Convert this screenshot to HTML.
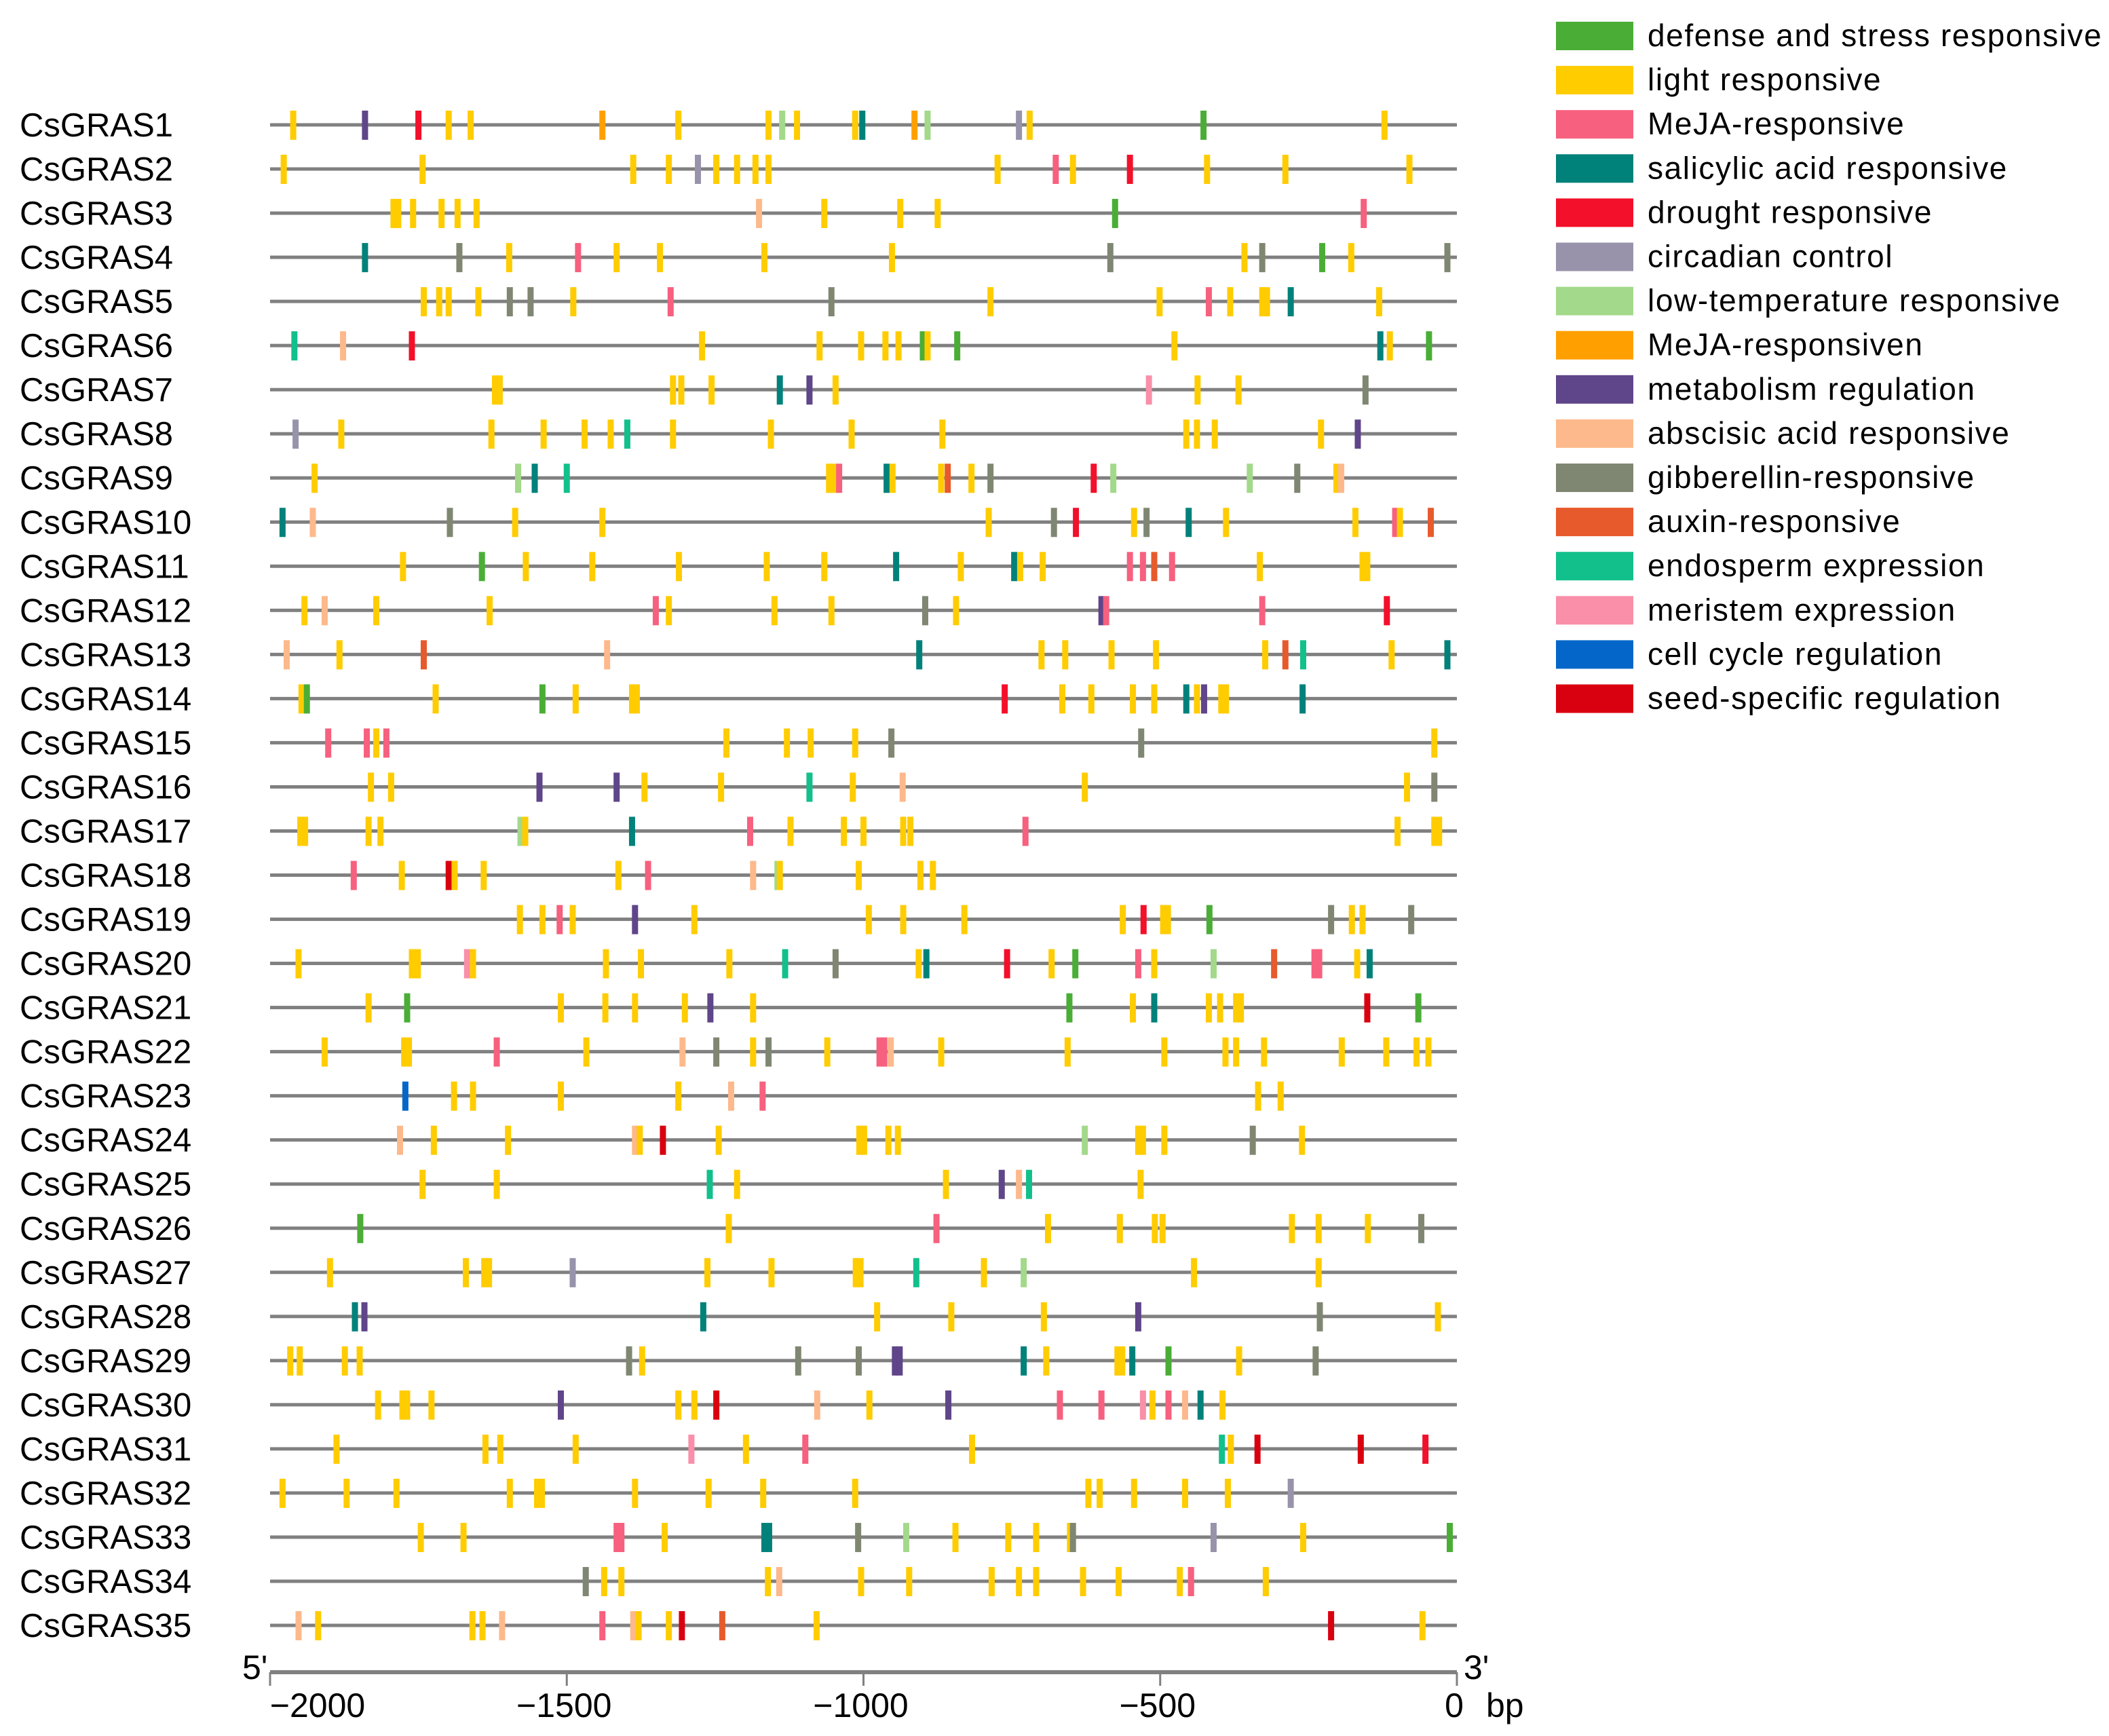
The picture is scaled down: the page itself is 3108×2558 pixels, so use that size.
<!DOCTYPE html>
<html><head><meta charset="utf-8">
<style>
html,body{margin:0;padding:0;background:#fff;}
svg{display:block;}
text{font-family:"Liberation Sans",Arial,sans-serif;fill:#000;}
</style></head>
<body>
<svg id="chart" width="3108" height="2558" viewBox="0 0 3108 2558" xmlns="http://www.w3.org/2000/svg">
<g id="rows"></g>
<g id="axis"></g>
<g id="legend"></g>
</svg>
<script>
const genes = ["CsGRAS1","CsGRAS2","CsGRAS3","CsGRAS4","CsGRAS5","CsGRAS6","CsGRAS7","CsGRAS8","CsGRAS9","CsGRAS10","CsGRAS11","CsGRAS12","CsGRAS13","CsGRAS14","CsGRAS15","CsGRAS16","CsGRAS17","CsGRAS18","CsGRAS19","CsGRAS20","CsGRAS21","CsGRAS22","CsGRAS23","CsGRAS24","CsGRAS25","CsGRAS26","CsGRAS27","CsGRAS28","CsGRAS29","CsGRAS30","CsGRAS31","CsGRAS32","CsGRAS33","CsGRAS34","CsGRAS35"];
const elementPositions = [
[-1961,-1840,-1750,-1699,-1662,-1440,-1312,-1160,-1137,-1112,-1014,-1002,-914,-892,-738,-720,-427,-122],
[-1977,-1743,-1388,-1328,-1279,-1248,-1213,-1182,-1160,-774,-676,-647,-551,-421,-289,-80],
[-1792,-1784,-1759,-1711,-1684,-1652,-1176,-1066,-938,-875,-576,-157],
[-1840,-1681,-1597,-1481,-1416,-1343,-1167,-952,-584,-358,-328,-227,-178,-16],
[-1741,-1715,-1699,-1649,-1596,-1561,-1489,-1325,-1054,-786,-501,-418,-382,-328,-320,-280,-131],
[-1959,-1877,-1761,-1272,-1074,-1004,-963,-941,-900,-892,-842,-476,-129,-113,-47],
[-1621,-1613,-1321,-1307,-1256,-1141,-1091,-1047,-519,-437,-368,-154],
[-1957,-1880,-1627,-1539,-1470,-1426,-1398,-1321,-1156,-1020,-867,-456,-438,-408,-229,-167],
[-1925,-1582,-1554,-1500,-1058,-1050,-1041,-961,-951,-869,-858,-818,-786,-612,-579,-349,-269,-203,-195],
[-1979,-1928,-1697,-1587,-1440,-789,-679,-642,-544,-523,-452,-389,-171,-104,-96,-44],
[-1776,-1643,-1569,-1457,-1311,-1163,-1066,-945,-836,-746,-736,-698,-551,-529,-510,-480,-332,-159,-151],
[-1942,-1908,-1821,-1630,-1350,-1328,-1150,-1054,-896,-844,-599,-591,-328,-118],
[-1972,-1883,-1741,-1432,-906,-700,-660,-582,-507,-323,-289,-259,-110,-16],
[-1947,-1938,-1721,-1541,-1485,-1390,-1382,-762,-665,-616,-546,-510,-456,-438,-426,-397,-389,-260],
[-1902,-1837,-1821,-1804,-1231,-1129,-1089,-1014,-953,-532,-38],
[-1830,-1796,-1546,-1416,-1369,-1240,-1091,-1018,-934,-627,-84,-38],
[-1949,-1941,-1834,-1814,-1578,-1570,-1390,-1191,-1123,-1033,-1000,-933,-921,-727,-100,-38,-30],
[-1859,-1778,-1699,-1689,-1640,-1413,-1363,-1186,-1145,-1141,-1008,-904,-883],
[-1579,-1541,-1512,-1490,-1385,-1285,-991,-933,-830,-563,-528,-495,-487,-417,-212,-177,-159,-77],
[-1952,-1761,-1751,-1668,-1658,-1434,-1375,-1226,-1132,-1047,-907,-894,-758,-683,-643,-537,-510,-410,-308,-240,-232,-168,-147],
[-1834,-1769,-1510,-1435,-1385,-1301,-1258,-1186,-653,-546,-510,-418,-399,-372,-364,-151,-65],
[-1908,-1774,-1766,-1618,-1467,-1305,-1248,-1186,-1160,-1061,-973,-965,-954,-869,-656,-493,-390,-372,-325,-194,-119,-68,-48],
[-1772,-1690,-1658,-1510,-1312,-1223,-1170,-335,-297],
[-1781,-1724,-1599,-1385,-1377,-1338,-1244,-1007,-999,-958,-942,-627,-537,-529,-493,-344,-261],
[-1743,-1618,-1259,-1213,-861,-767,-738,-721,-533],
[-1848,-1227,-877,-689,-568,-509,-496,-278,-233,-150,-60],
[-1899,-1670,-1639,-1631,-1490,-1263,-1155,-1013,-1005,-911,-797,-730,-443,-233],
[-1857,-1841,-1270,-977,-852,-696,-537,-231,-32],
[-1966,-1950,-1874,-1849,-1395,-1373,-1110,-1008,-947,-939,-730,-692,-572,-564,-547,-486,-367,-238],
[-1818,-1777,-1769,-1728,-1510,-1312,-1285,-1248,-1078,-990,-857,-669,-599,-529,-513,-486,-458,-432,-395],
[-1888,-1637,-1612,-1485,-1290,-1198,-1098,-817,-396,-381,-336,-162,-53],
[-1979,-1871,-1787,-1596,-1550,-1542,-1385,-1261,-1169,-1014,-621,-602,-544,-458,-386,-280],
[-1746,-1674,-1416,-1408,-1335,-1167,-1159,-1009,-928,-845,-756,-709,-652,-647,-410,-259,-12],
[-1468,-1437,-1408,-1161,-1142,-1004,-923,-784,-738,-709,-630,-570,-467,-448,-322],
[-1952,-1919,-1659,-1642,-1609,-1440,-1388,-1379,-1328,-1306,-1238,-1079,-212,-58]
];
const elementTypes = [
"Y M R Y Y O Y Y L Y Y T O L C Y G Y",
"Y Y Y Y C Y Y Y Y Y P Y R Y Y Y",
"Y Y Y Y Y Y A Y Y Y G P",
"T Gb Y P Y Y Y Y Gb Y Gb G Y Gb",
"Y Y Y Y Gb Gb Y P Gb Y Y P Y Y Y T Y",
"E A R Y Y Y Y Y G Y G Y T Y G",
"Y Y Y Y Y T M Y K Y Y Gb",
"C Y Y Y Y Y E Y Y Y Y Y Y Y Y M",
"Y L T E Y Y P T Y Y X Y Gb R L L Gb Y A",
"T A Gb Y Y Y Gb R Y Gb T Y Y P Y X",
"Y G Y Y Y Y Y T Y T Y Y P P X P Y Y Y",
"Y A Y Y P Y Y Y Gb Y M P P R",
"A Y X A T Y Y Y Y Y X E Y T",
"Y G Y G Y Y Y R Y Y Y Y T Y M Y Y T",
"P P Y P Y Y Y Y Gb Gb Y",
"Y Y M M Y Y E Y A Y Y Gb",
"Y Y Y Y L Y T P Y Y Y Y Y P Y Y Y",
"P Y S Y Y Y P A L Y Y Y Y",
"Y Y P Y M Y Y Y Y Y R Y Y G Gb Y Y Gb",
"Y Y Y K Y Y Y Y E Gb Y T R Y G P Y L X P P Y T",
"Y G Y Y Y Y M Y G Y T Y Y Y Y S G",
"Y Y Y P Y A Gb Y Gb Y P P A Y Y Y Y Y Y Y Y Y Y",
"B Y Y Y Y A P Y Y",
"A Y Y A Y S Y Y Y Y Y L Y Y Y Gb Y",
"Y Y E Y Y M A E Y",
"G Y P Y Y Y Y Y Y Y Gb",
"Y Y Y Y C Y Y Y Y E Y L Y Y",
"T M T Y Y Y M Gb Y",
"Y Y Y Y Gb Y Gb Gb M M T Y Y Y T G Y Gb",
"Y Y Y Y M Y Y S A Y M P P K Y P A T Y",
"Y Y Y Y K Y P Y E Y S S R",
"Y Y Y Y Y Y Y Y Y Y Y Y Y Y Y C",
"Y Y P P Y T T Gb L Y Y Y Y Gb C Y G",
"Gb Y Y Y A Y Y Y Y Y Y Y Y P Y",
"A Y Y Y A P A Y Y S X Y S Y"
];
const legendCodes = ["G","Y","P","T","R","C","L","O","M","A","Gb","X","E","K","B","S"];
const legendLabels = ["defense and stress responsive","light responsive","MeJA-responsive","salicylic acid responsive","drought responsive","circadian control","low-temperature responsive","MeJA-responsiven","metabolism regulation","abscisic acid responsive","gibberellin-responsive","auxin-responsive","endosperm expression","meristem expression","cell cycle regulation","seed-specific regulation"];
const tickValues = [-2000,-1500,-1000,-500,0];
const tickLabels = ["\u22122000","\u22121500","\u22121000","\u2212500","0"];

const colors = {G:"#4aae36",Y:"#ffcc00",P:"#f7607e",T:"#00817a",R:"#f2102a",C:"#9893ab",L:"#a3d98a",O:"#ffa000",M:"#5f4589",A:"#fdb98b",Gb:"#7f8772",X:"#e75a2c",E:"#12c08c",K:"#f98fa8",B:"#0466c8",S:"#d9000f"};
const NS = "http://www.w3.org/2000/svg";
const X0 = 398, X1 = 2147;
function xScale(bp){ return X0 + (bp + 2000) * (X1 - X0) / 2000; }
function yRow(i){ return 184 + i * 65.03; }
function mk(tag, attrs, parent){ const e = document.createElementNS(NS, tag); for (const k in attrs) e.setAttribute(k, attrs[k]); parent.appendChild(e); return e; }

const rowsG = document.getElementById("rows");
genes.forEach((g, i) => {
  const y = yRow(i);
  const grp = mk("g", {}, rowsG);
  
  
  const lab = mk("text", {x: 29, y: y + 17, "font-size": 49}, grp);
  lab.textContent = g;
  
  
  const ln = mk("rect", {x: X0, y: y - 2.5, width: X1 - X0, height: 5, fill: "#808080"}, grp);
  
  
  const types = elementTypes[i].split(" ");
  elementPositions[i].forEach((bp, j) => {
    const r = mk("rect", {x: xScale(bp) - 4.5, y: y - 21, width: 9, height: 43, fill: colors[types[j]] || "#ffcc00"}, grp);
    
    
  });
});

const axisG = document.getElementById("axis");
const aline = mk("rect", {x: X0, y: 2461, width: X1 - X0, height: 6, fill: "#808080"}, axisG);


tickValues.forEach((v, k) => {
  const x = xScale(v);
  const t = mk("rect", {x: x - 1.5, y: 2464, width: 3, height: 20, fill: "#808080"}, axisG);
  
  
  const lx = (k === 0) ? x + 70 : x - 4;
  const tl = mk("text", {x: lx, y: 2530, "font-size": 50, "text-anchor": "middle"}, axisG);
  tl.textContent = tickLabels[k];
  
  
});
const bp = mk("text", {x: 2190, y: 2530, "font-size": 50}, axisG);
bp.textContent = "bp";


const five = mk("text", {x: 357, y: 2474, "font-size": 50}, axisG);
five.textContent = "5'";


const three = mk("text", {x: 2157, y: 2474, "font-size": 50}, axisG);
three.textContent = "3'";



const legG = document.getElementById("legend");
legendCodes.forEach((c, k) => {
  const y = 32 + k * 65.1;
  const ent = mk("g", {}, legG);
  
  
  const sw = mk("rect", {x: 2293, y: y, width: 114, height: 42, fill: colors[c]}, ent);
  
  
  const tx = mk("text", {x: 2428, y: y + 36, "font-size": 46, "letter-spacing": 1.6}, ent);
  tx.textContent = legendLabels[k];
  
  
});
</script>
</body></html>
